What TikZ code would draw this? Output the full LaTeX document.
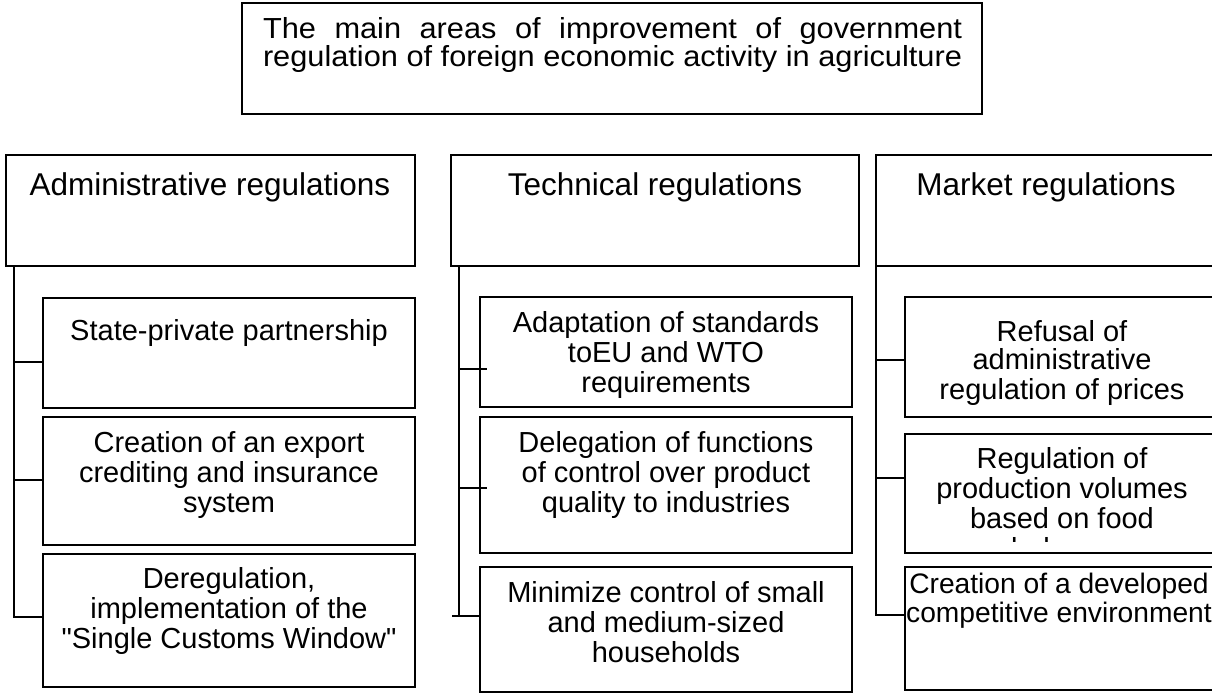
\documentclass[tikz,border=0pt]{standalone}
\usepackage{fontspec}
\setmainfont{Liberation Sans}
\newfontfamily\titlefont[FakeStretch=1.06]{Liberation Sans}
\newfontfamily\qfont[Ligatures=TeXOff]{Liberation Sans}
\newcommand\topstrut{\rule{0pt}{24pt}}
\newcommand\sq{{\qfont\char34}}
\begin{document}
\begin{tikzpicture}[x=1pt,y=-1pt,
  box/.style={draw, line width=1.5pt, rectangle, inner sep=0pt, outer sep=0pt, anchor=north west},
  conn/.style={line width=1.5pt},
  head/.style={font=\fontsize{31.5}{36}\selectfont, anchor=base, inner sep=0pt},
  sub/.style={font=\fontsize{29}{30}\selectfont, align=center, anchor=north, inner sep=0pt},
  ttl/.style={font=\titlefont\fontsize{29}{25}\selectfont, align=center, anchor=north, inner sep=0pt}
]
\clip (0,0) rectangle (1212,693);
\fill[white] (0,0) rectangle (1212,693);

% title
\node[box, minimum width=740pt, minimum height=111pt] (title) at (242,3) {};
\node[ttl] (titlet) at (612.5,14) {\topstrut\makebox[699pt][s]{The main areas of improvement of government}\\\makebox[699pt][s]{regulation of foreign economic activity in agriculture}};

% headers
\node[box, minimum width=409pt, minimum height=111pt] (adm) at (6,155) {};
\node[box, minimum width=408pt, minimum height=111pt] (tec) at (451,155) {};
\node[box, minimum width=340pt, minimum height=111pt] (mkt) at (876,155) {};
\node[head] (admt) at (210,195) {Administrative regulations};
\node[head] (tect) at (655,195) {Technical regulations};
\node[head] (mktt) at (1046,195) {Market regulations};

% sub boxes
\node[box, minimum width=372pt, minimum height=110pt] (a1) at (43,298) {};
\node[box, minimum width=372pt, minimum height=128pt] (a2) at (43,417) {};
\node[box, minimum width=372pt, minimum height=133pt] (a3) at (43,554) {};
\node[box, minimum width=372pt, minimum height=110pt] (t1) at (480,297) {};
\node[box, minimum width=372pt, minimum height=136pt] (t2) at (480,417) {};
\node[box, minimum width=372pt, minimum height=125pt] (t3) at (480,567) {};
\node[box, minimum width=315pt, minimum height=120pt] (m1) at (905,297) {};
\node[box, minimum width=315pt, minimum height=119pt] (m2) at (905,434) {};
\node[box, minimum width=315pt, minimum height=123pt] (m3) at (905,567) {};

% texts
\node[sub] (a1t) at (229,316) {\topstrut State-private partnership};
\node[sub] (a2t) at (229,428) {\topstrut Creation of an export\\crediting and insurance\\system};
\node[sub] (a3t) at (229,564) {\topstrut Deregulation,\\implementation of the\\\sq Single Customs Window\sq};
\node[sub] (t1t) at (666,308) {\topstrut Adaptation of standards\\toEU and WTO\\requirements};
\node[sub] (t2t) at (666,428) {\topstrut Delegation of functions\\of control over product\\quality to industries};
\node[sub] (t3t) at (666,578) {\topstrut Minimize control of small\\and medium-sized\\households};
\node[sub] (m1t) at (1062,317) {\topstrut Refusal of\\[-2pt]administrative\\regulation of prices};
\begin{scope}
\clip (905,434) rectangle (1212,541);
\node[sub] (m2t) at (1062,444) {\topstrut Regulation of\\production volumes\\based on food\\balance};
\end{scope}
\node[sub, font=\fontsize{28.2}{29}\selectfont] (m3t) at (1059,569) {\topstrut Creation of a developed\\competitive environment};

% connectors
\coordinate (ax) at (14,0);
\coordinate (tx) at (459,0);
\coordinate (mx) at (876,0);

\draw[conn] (adm.south -| ax) -- ([yshift=3.5pt]a3.west -| ax) -- ([yshift=3.5pt]a3.west);
\draw[conn] ([yshift=-9pt]a1.west -| ax) -- ([yshift=-9pt]a1.west);
\draw[conn] ([yshift=1pt]a2.west -| ax) -- ([yshift=1pt]a2.west);

\draw[conn] (tec.south -| tx) -- ([yshift=13.5pt]t3.west -| tx);
\draw[conn] ([yshift=13.5pt,xshift=-28pt]t3.west) -- ([yshift=13.5pt]t3.west);
\draw[conn] ([yshift=-17pt]t1.west -| tx) -- ([yshift=-17pt,xshift=7pt]t1.west);
\draw[conn] ([yshift=-3pt]t2.west -| tx) -- ([yshift=-3pt,xshift=7pt]t2.west);

\draw[conn] (mkt.south -| mx) -- ([yshift=13.5pt]m3.west -| mx) -- ([yshift=13.5pt]m3.west);
\draw[conn] ([yshift=-3pt]m1.west -| mx) -- ([yshift=-3pt]m1.west);
\draw[conn] ([yshift=15.5pt]m2.west -| mx) -- ([yshift=15.5pt]m2.west);
\end{tikzpicture}
\end{document}
